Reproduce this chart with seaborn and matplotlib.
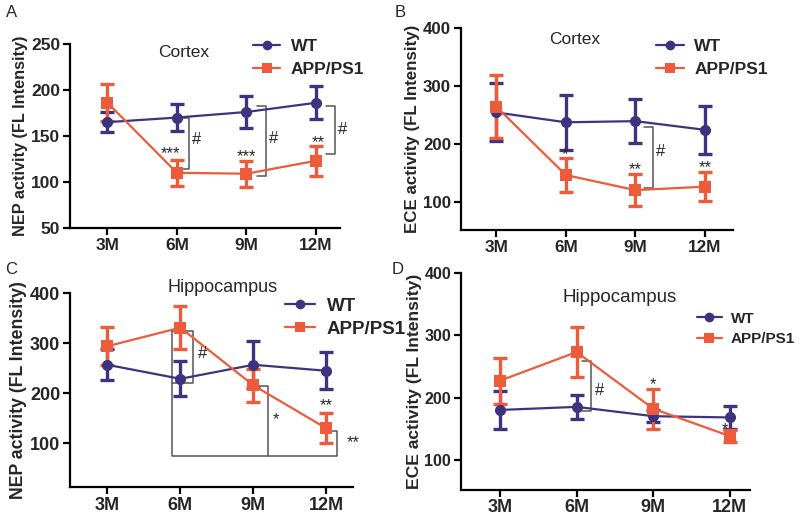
import numpy as np
import pandas as pd
import matplotlib
matplotlib.use("Agg")
import matplotlib.pyplot as plt
import seaborn as sns

# ---------------------------
# Data (mean +/- error)
# ---------------------------
months = ["3M", "6M", "9M", "12M"]
groups = ["WT", "APP/PS1"]

nep_ctx_wt = [165, 170, 176, 186]
nep_ctx_wt_err = [11, 15, 17, 18]
nep_ctx_app = [186, 110, 109, 123]
nep_ctx_app_err = [20, 14, 14, 16]

ece_ctx_wt = [255, 238, 240, 225]
ece_ctx_wt_err = [50, 47, 38, 41]
ece_ctx_app = [265, 147, 121, 127]
ece_ctx_app_err = [54, 29, 27, 25]

nep_hip_wt = [257, 229, 257, 245]
nep_hip_wt_err = [31, 35, 47, 37]
nep_hip_app = [294, 331, 216, 130]
nep_hip_app_err = [38, 43, 33, 30]

ece_hip_wt = [180, 185, 170, 168]
ece_hip_wt_err = [30, 19, 10, 18]
ece_hip_app = [227, 273, 182, 138]
ece_hip_app_err = [37, 40, 32, 10]

WT_COLOR = "#3d3480"
APP_COLOR = "#ee5b3a"
GRAY = "#555555"
FONT = ["Liberation Sans", "DejaVu Sans"]

sns.set_theme(style="ticks")
plt.rcParams["font.family"] = FONT
plt.rcParams["axes.linewidth"] = 1.6


def draw_panel(ax, wt, wt_err, app, app_err, ylabel, yticks, ylim, xlim,
               label_size, xtick_size, ytick_size):
    df = pd.DataFrame({
        "pos": list(range(len(months))) * 2,
        "value": wt + app,
        "group": [groups[0]] * len(months) + [groups[1]] * len(months),
    })
    sns.lineplot(data=df, x="pos", y="value", hue="group", style="group",
                 palette={"WT": WT_COLOR, "APP/PS1": APP_COLOR},
                 markers={"WT": "o", "APP/PS1": "s"}, dashes=False,
                 markersize=8, markeredgewidth=0, linewidth=1.6, ax=ax,
                 zorder=3, legend=False)
    x = np.arange(len(months))
    ax.errorbar(x, wt, yerr=wt_err, fmt="none", ecolor=WT_COLOR,
                elinewidth=2.4, capsize=5, capthick=2.4, zorder=2)
    ax.errorbar(x, app, yerr=app_err, fmt="none", ecolor=APP_COLOR,
                elinewidth=2.4, capsize=5, capthick=2.4, zorder=2)
    ax.set_xticks(x)
    ax.set_xticklabels(months)
    ax.set_yticks(yticks)
    ax.set_ylim(*ylim)
    ax.set_xlim(*xlim)
    ax.set_xlabel("")
    ax.set_ylabel(ylabel, fontsize=label_size, fontweight="bold", labelpad=2)
    ax.tick_params(axis="both", length=5, width=1.6, pad=2, color="black")
    ax.tick_params(axis="x", labelsize=xtick_size)
    ax.tick_params(axis="y", labelsize=ytick_size)
    for lab in ax.get_xticklabels() + ax.get_yticklabels():
        lab.set_fontweight("bold")
    for s in ["left", "bottom"]:
        ax.spines[s].set_color("black")
    sns.despine(ax=ax)


def bracket(ax, x, y1, y2, tick=0.13):
    ax.plot([x - tick, x, x, x - tick], [y1, y1, y2, y2], color=GRAY,
            lw=1.1, zorder=1, clip_on=False)


fig = plt.figure(figsize=(8, 5.16), dpi=100)

axA = fig.add_axes([0.0875, 0.558, 0.3375, 0.357])
axB = fig.add_axes([0.576, 0.554, 0.340, 0.391])
axC = fig.add_axes([0.0875, 0.056, 0.3535, 0.376])
axD = fig.add_axes([0.576, 0.051, 0.3613, 0.420])

draw_panel(axA, nep_ctx_wt, nep_ctx_wt_err, nep_ctx_app, nep_ctx_app_err,
           "NEP activity (FL Intensity)", [50, 100, 150, 200, 250], (50, 250),
           (-0.54, 3.35), 11.7, 12.4, 12.5)
draw_panel(axB, ece_ctx_wt, ece_ctx_wt_err, ece_ctx_app, ece_ctx_app_err,
           "ECE activity (FL Intensity)", [100, 200, 300, 400], (52, 400),
           (-0.51, 3.4), 12.2, 12.3, 12.2)
draw_panel(axC, nep_hip_wt, nep_hip_wt_err, nep_hip_app, nep_hip_app_err,
           "NEP activity (FL Intensity)", [100, 200, 300, 400], (13, 400),
           (-0.51, 3.36), 12.8, 13, 13)
draw_panel(axD, ece_hip_wt, ece_hip_wt_err, ece_hip_app, ece_hip_app_err,
           "ECE activity (FL Intensity)", [100, 200, 300, 400], (52, 400),
           (-0.51, 3.26), 12.6, 13, 11.5)

# legends
handles = [plt.Line2D([], [], color=WT_COLOR, marker="o", lw=1.6, ms=7, mew=0),
           plt.Line2D([], [], color=APP_COLOR, marker="s", lw=1.6, ms=7, mew=0)]
for (lx, ly, size, sp) in [(0.305, 0.942, 12.5, 0.45),
                           (0.809, 0.941, 12.5, 0.45),
                           (0.345, 0.441, 13.5, 0.3),
                           (0.862, 0.411, 11, 0.45)]:
    fig.legend(handles, groups, loc="upper left", bbox_to_anchor=(lx, ly),
               frameon=False, handlelength=1.6, handletextpad=0.6,
               borderpad=0, labelspacing=sp,
               prop={"family": FONT, "weight": "bold", "size": size})

# region titles
axA.text(1.1, 241, "Cortex", fontsize=12.5, ha="center", va="center")
axB.text(1.13, 380, "Cortex", fontsize=12.5, ha="center", va="center")
axC.text(1.58, 411, "Hippocampus", fontsize=13, ha="center", va="center",
         clip_on=False)
axD.text(1.56, 360, "Hippocampus", fontsize=13.5, ha="center", va="center")

# significance marks - panel A
bracket(axA, 1.18, 169, 114)
bracket(axA, 2.28, 182, 107)
bracket(axA, 3.28, 182, 130)
for x, y in [(1.29, 146), (2.39, 147), (3.39, 157)]:
    axA.text(x, y, "#", fontsize=12, ha="center", va="center")
for x, y, s in [(0.91, 131, "***"), (2.0, 128, "***"), (3.04, 143, "**")]:
    axA.text(x, y, s, fontsize=12, ha="center", va="center")

# panel B
bracket(axB, 2.25, 230, 125)
axB.text(2.36, 187, "#", fontsize=12, ha="center", va="center")
for x, y, s in [(0.99, 183, "*"), (2.0, 156, "**"), (3.01, 159, "**")]:
    axB.text(x, y, s, fontsize=12, ha="center", va="center")

# panel C
axC.plot([0.89, 1.18, 1.18, 0.89], [325, 325, 221, 221], color=GRAY, lw=1.1,
         zorder=1)
axC.plot([0.89, 0.89, 2.2, 2.2, 2.04], [325, 76, 76, 215, 215], color=GRAY,
         lw=1.1, zorder=1)
axC.plot([2.2, 3.14, 3.14, 3.0], [76, 76, 124, 124], color=GRAY, lw=1.1,
         zorder=1)
axC.text(1.31, 280, "#", fontsize=12, ha="center", va="center")
axC.text(2.31, 148, "*", fontsize=12, ha="center", va="center")
axC.text(3.36, 102, "**", fontsize=12, ha="center", va="center",
         clip_on=False)
axC.text(3.0, 176, "**", fontsize=12, ha="center", va="center")

# panel D
bracket(axD, 1.19, 258, 179, tick=0.12)
axD.text(1.30, 212, "#", fontsize=12, ha="center", va="center")
axD.text(2.0, 220, "*", fontsize=12, ha="center", va="center")
axD.text(2.93, 148, "*", fontsize=12, ha="center", va="center")

# panel letters
for x, y, s in [(0.008, 0.975, "A"), (0.493, 0.975, "B"),
                (0.006, 0.478, "C"), (0.49, 0.478, "D")]:
    fig.text(x, y, s, fontsize=12, ha="left", va="center")

fig.savefig("out.png", dpi=100)
